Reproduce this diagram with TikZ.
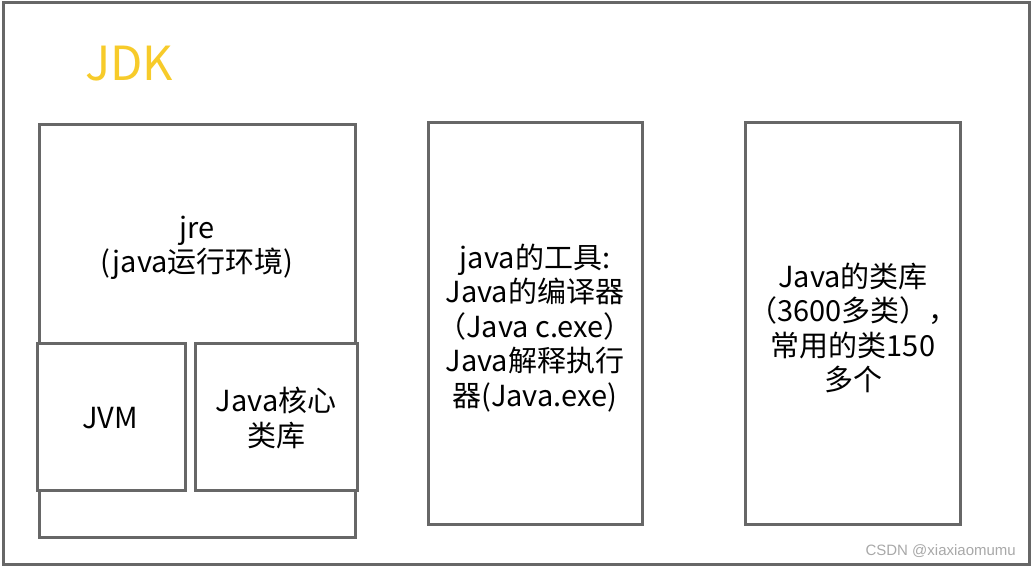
\documentclass[tikz,border=0pt]{standalone}
\usepackage{fontspec}
\setmainfont{Noto Sans CJK SC}
\newfontfamily\wmfont{Liberation Sans}
\definecolor{linegray}{HTML}{676767}
\definecolor{jdkyellow}{HTML}{F7CB2A}
\definecolor{wmgray}{HTML}{A8A8A8}
\begin{document}
\begin{tikzpicture}[x=1pt,y=-1pt,
  box/.style={draw=linegray,line width=3pt,fill=white},
  lbl/.style={font=\fontsize{29}{34.5}\selectfont,align=center,text=black,inner sep=0pt}]
\useasboundingbox (0,0) rectangle (1031,567);
% outer JDK frame
\draw[linegray,line width=3pt] (3,3) rectangle (1029,564);
\node[font=\fontsize{47}{52}\selectfont,text=jdkyellow,inner sep=0pt] (jdk) at (129,64) {JDK};
% jre
\draw[box] (39,125) rectangle (355,537);
\node[lbl] (jre) at (197,248) {jre\\(java运行环境)};
\draw[box] (37,343) rectangle (185,490);
\node[lbl] (jvm) at (110,418) {JVM};
\draw[box] (195,343) rectangle (357,490);
\node[lbl] (core) at (276,418) {Java核心\\类库};
% tools
\draw[box] (428,123) rectangle (642,524);
\node[lbl] (tools) at (535,328) {java的工具:\\Java的编译器\\（Java c.exe）\\Java解释执行\\器(Java.exe)};
% library
\draw[box] (745,123) rectangle (960,524);
\node[lbl] (lib) at (853,328) {Java的类库\\（3600多类），\\常用的类150\\多个};
% watermark
\node[font=\wmfont\fontsize{15}{17}\selectfont,text=wmgray,anchor=east,inner sep=0pt] (wm) at (1016,551) {CSDN @xiaxiaomumu};
\end{tikzpicture}
\end{document}
